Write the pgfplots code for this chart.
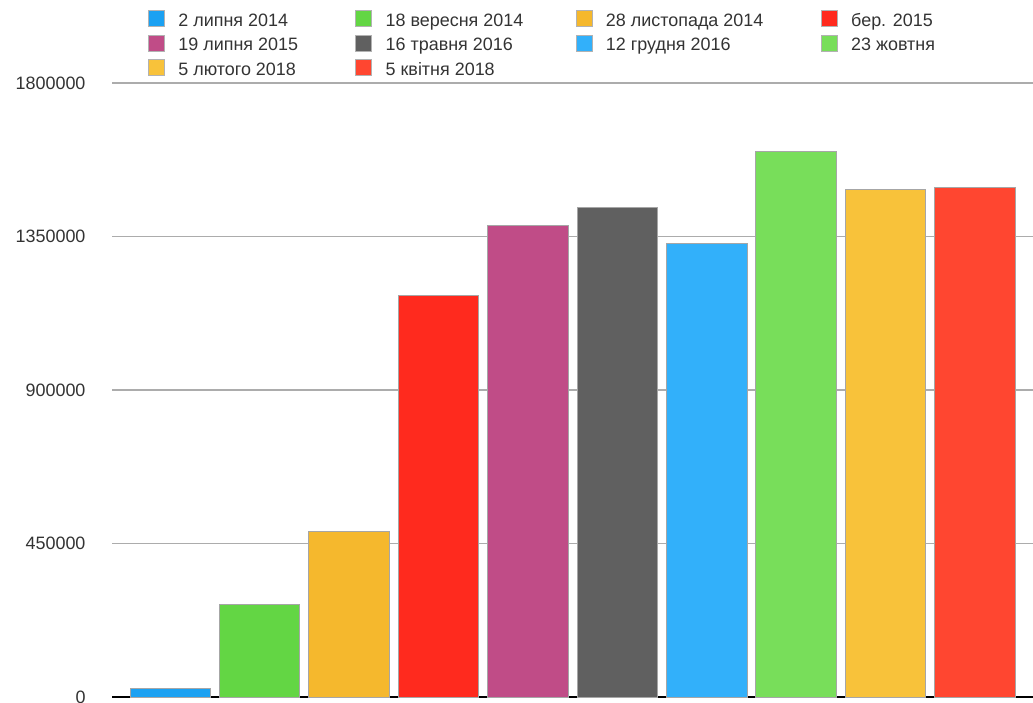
\documentclass[border=0pt]{standalone}
\usepackage{pgfplots}
\pgfplotsset{compat=1.18}
\usepackage{fontspec}
\setmainfont{Liberation Sans}
\definecolor{c1}{HTML}{1BA1F2}
\definecolor{c2}{HTML}{63D644}
\definecolor{c3}{HTML}{F5B82D}
\definecolor{c4}{HTML}{FF2A1E}
\definecolor{c5}{HTML}{C04C87}
\definecolor{c6}{HTML}{606060}
\definecolor{c7}{HTML}{32B0FA}
\definecolor{c8}{HTML}{78DE5A}
\definecolor{c9}{HTML}{F8C23A}
\definecolor{c10}{HTML}{FF4630}
\definecolor{txt}{HTML}{333333}
\begin{document}
\begin{tikzpicture}
\begin{axis}[
  scale only axis,
  width=921bp, height=614bp,
  xmin=-0.65, xmax=9.65,
  ymin=0, ymax=1800000,
  ytick={0,450000,900000,1350000,1800000},
  scaled y ticks=false,
  /pgf/number format/.cd, fixed, 1000 sep={}, assume math mode=true,
  /pgfplots/.cd,
  xtick=\empty,
  axis x line*=bottom,
  axis y line*=left,
  y axis line style={draw=none},
  x axis line style={draw=black, line width=1.5bp, -},
  major tick length=0pt,
  ymajorgrids,
  grid style={draw=gray!65, line width=1.8bp},
  yticklabel style={font=\fontsize{18}{21}\selectfont, text=txt, xshift=-23bp},
  ybar, bar shift=0pt, bar width=0.9,
  every axis plot/.append style={draw=gray!70, line width=0.7bp},
  legend columns=4,
  legend cell align=left,
  legend style={draw=none, fill=none, font=\fontsize{18}{21}\selectfont, text=txt,
    inner sep=0pt, column sep=0pt, row sep=0pt,
    at={(rel axis cs:0,1)}, anchor=south west, xshift=36bp, yshift=0bp,
    nodes={text height=13bp, text depth=3.5bp, inner sep=4bp}},
  legend image code/.code={\path[draw=none,fill=none] (0bp,-4bp) -- (26bp,-4bp);
    \draw[#1, draw=gray!60, line width=0.5bp] (0bp,-5bp) rectangle (16bp,11bp);},
]
\addplot[fill=c1] coordinates {(0,25000)};
\addplot[fill=c2] coordinates {(1,272600)};
\addplot[fill=c3] coordinates {(2,485000)};
\addplot[fill=c4] coordinates {(3,1177000)};
\addplot[fill=c5] coordinates {(4,1382000)};
\addplot[fill=c6] coordinates {(5,1436000)};
\addplot[fill=c7] coordinates {(6,1329000)};
\addplot[fill=c8] coordinates {(7,1600000)};
\addplot[fill=c9] coordinates {(8,1489000)};
\addplot[fill=c10] coordinates {(9,1495000)};
\legend{\makebox[173bp][l]{2 липня 2014}, \makebox[186bp][l]{18 вересня 2014}, \makebox[211bp][l]{28 листопада 2014}, \makebox[150bp][l]{бер. 2015},
  \makebox[173bp][l]{19 липня 2015}, \makebox[186bp][l]{16 травня 2016}, \makebox[211bp][l]{12 грудня 2016}, \makebox[150bp][l]{23 жовтня},
  \makebox[173bp][l]{5 лютого 2018}, \makebox[186bp][l]{5 квітня 2018}}
\end{axis}
\pgfresetboundingbox
\path ([xshift=-112bp,yshift=-5bp]current axis.south west) rectangle ([yshift=83bp]current axis.north east);
\end{tikzpicture}
\end{document}
